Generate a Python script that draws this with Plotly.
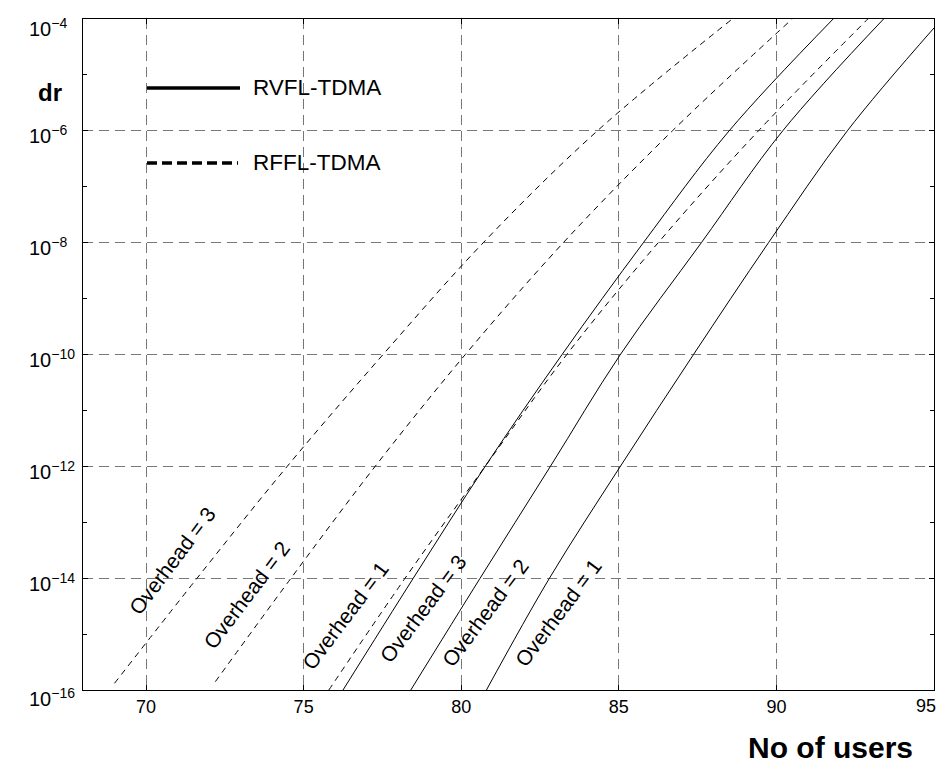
import plotly.graph_objects as go

# RVFL-TDMA (solid) : No of users (x) and log10(dr) (y)
rvfl_oh1_x = [80.8, 82.8, 85.05, 87.37, 89.75, 92.25, 95.0]
rvfl_oh1_y = [-16, -14, -12, -10, -8, -6, -4.16]
rvfl_oh2_x = [78.4, 80.6, 82.83, 85.05, 87.62, 90.2, 93.4]
rvfl_oh2_y = [-16, -14, -12, -10, -8, -6, -4]
rvfl_oh3_x = [76.25, 78.48, 80.76, 83.2, 85.78, 88.5, 91.8]
rvfl_oh3_y = [-16, -14, -12, -10, -8, -6, -4]

# RFFL-TDMA (dashed)
rffl_oh1_x = [75.8, 78.22, 80.76, 83.35, 86.25, 89.43, 92.9]
rffl_oh1_y = [-16, -14, -12, -10, -8, -6, -4]
rffl_oh2_x = [72.2, 74.6, 77.27, 80.13, 83.24, 86.7, 90.5]
rffl_oh2_y = [-15.85, -14, -12, -10, -8, -6, -4]
rffl_oh3_x = [69.0, 71.62, 74.48, 77.52, 80.7, 84.32, 88.6]
rffl_oh3_y = [-15.88, -14, -12, -10, -8, -6, -4]

x_ticks = [70, 75, 80, 85, 90, 95]
y_major = [-16, -14, -12, -10, -8, -6, -4]
y_minor = [-15, -13, -11, -9, -7, -5]
y_ticktext = ["10<sup>\u2212%d</sup>" % (-v) for v in y_major]

labels = ["Overhead = 3", "Overhead = 2", "Overhead = 1",
          "Overhead = 3", "Overhead = 2", "Overhead = 1"]
label_x = [70.83, 73.21, 76.32, 78.79, 80.76, 83.08]
label_y = [-13.68, -14.30, -14.66, -14.54, -14.61, -14.61]

FONT = "Liberation Sans, Arial, Helvetica, sans-serif"

fig = go.Figure()

def add(xs, ys, dash):
    fig.add_trace(go.Scatter(
        x=xs, y=[10 ** v for v in ys], mode="lines",
        line=dict(color="black", width=1, dash=dash, shape="spline", smoothing=1.0),
        showlegend=False, hoverinfo="skip"))

add(rvfl_oh1_x, rvfl_oh1_y, "solid")
add(rvfl_oh2_x, rvfl_oh2_y, "solid")
add(rvfl_oh3_x, rvfl_oh3_y, "solid")
add(rffl_oh1_x, rffl_oh1_y, "6px,5px")
add(rffl_oh2_x, rffl_oh2_y, "6px,5px")
add(rffl_oh3_x, rffl_oh3_y, "6px,5px")

annotations = []
for t, lx, ly in zip(labels, label_x, label_y):
    annotations.append(dict(x=lx, y=ly, xref="x", yref="y", text=t, showarrow=False,
                            textangle=-53, font=dict(family=FONT, size=21, color="black"),
                            xanchor="center", yanchor="middle"))

# y tick labels, left aligned like the original (end labels nudged inward)
for v, t in zip(y_major, y_ticktext):
    shift = -4
    if v == -4:
        shift = -8
    elif v == -16:
        shift = -7
    annotations.append(dict(x=-0.0658, y=v, xref="paper", yref="y", text=t, showarrow=False,
                            xanchor="left", yanchor="middle", yshift=shift,
                            font=dict(family=FONT, size=20, color="black")))

# last x tick label kept fully inside the visible page
annotations.append(dict(x=x_ticks[-1], y=0, xref="x", yref="paper", text=str(x_ticks[-1]),
                        showarrow=False, xanchor="right", yanchor="top", xshift=4, yshift=-4,
                        font=dict(family=FONT, size=18, color="black")))

# manual legend and axis titles
annotations += [
    dict(x=0.1975, y=0.8972, xref="paper", yref="paper", text="RVFL-TDMA", showarrow=False,
         xanchor="left", yanchor="middle", font=dict(family=FONT, size=22.5, color="black")),
    dict(x=0.1975, y=0.7854, xref="paper", yref="paper", text="RFFL-TDMA", showarrow=False,
         xanchor="left", yanchor="middle", font=dict(family=FONT, size=22.5, color="black")),
    dict(x=-0.039, y=0.8912, xref="paper", yref="paper", text="<b>dr</b>",
         showarrow=False, xanchor="center", yanchor="middle",
         font=dict(family=FONT, size=24, color="black")),
    dict(x=0.8778, y=-0.0864, xref="paper", yref="paper", text="<b>No of users</b>",
         showarrow=False, xanchor="center", yanchor="middle",
         font=dict(family=FONT, size=30, color="black")),
]

shapes = [
    dict(type="line", xref="paper", yref="paper", x0=0.0752, x1=0.1845, y0=0.8972, y1=0.8972,
         line=dict(color="black", width=3.5)),
    dict(type="line", xref="paper", yref="paper", x0=0.0752, x1=0.1822, y0=0.7854, y1=0.7854,
         line=dict(color="black", width=3.5, dash="10px,5px")),
]

grid = dict(showgrid=True, gridcolor="#777777", gridwidth=1, griddash="10px,6px")

# page body has an 8px margin: figure is 8px smaller so the plot lands where the reference has it
fig.update_layout(
    width=938, height=755,
    margin=dict(l=75, r=12, t=11, b=73),
    paper_bgcolor="white", plot_bgcolor="white",
    font=dict(family=FONT, color="black"),
    annotations=annotations, shapes=shapes,
    xaxis=dict(range=[68, 95], tickvals=x_ticks,
               ticktext=[str(v) for v in x_ticks[:-1]] + [""],
               ticks="inside", ticklen=5, tickcolor="black", showline=True, linecolor="black",
               linewidth=1, mirror="ticks", zeroline=False, automargin=False,
               ticklabeloverflow="allow",
               tickfont=dict(family=FONT, size=18, color="black"), **grid),
    yaxis=dict(type="log", range=[-16, -4], tickvals=[10 ** v for v in y_major],
               ticktext=["" for v in y_major], showticklabels=True,
               ticks="inside", ticklen=5, tickcolor="black", showline=True, linecolor="black",
               linewidth=1, mirror="ticks", zeroline=False, automargin=False,
               minor=dict(tickvals=[10 ** v for v in y_minor], ticks="inside", ticklen=4,
                          tickcolor="black", showgrid=False),
               **grid),
)

fig.write_html("out.html")
